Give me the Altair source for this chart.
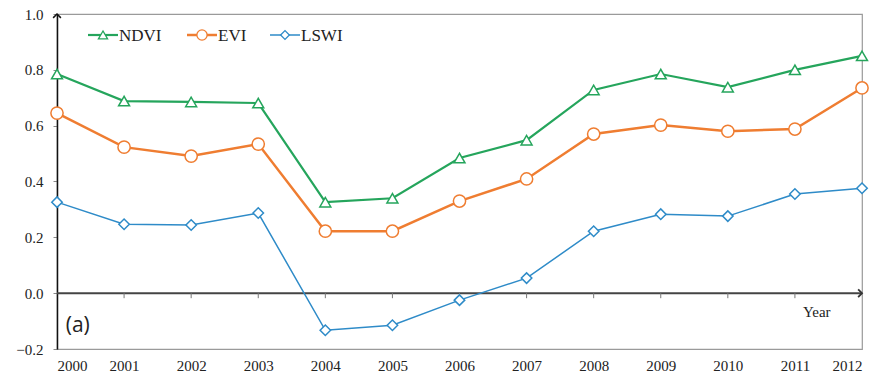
import altair as alt
import pandas as pd

# Vegetation index series, 2000-2012
years = list(range(2000, 2013))
ndvi = [0.785, 0.688, 0.685, 0.681, 0.326, 0.340, 0.484, 0.548, 0.728, 0.785, 0.738, 0.800, 0.850]
evi = [0.645, 0.523, 0.491, 0.534, 0.222, 0.222, 0.330, 0.409, 0.570, 0.602, 0.580, 0.588, 0.735]
lswi = [0.326, 0.247, 0.244, 0.287, -0.133, -0.115, -0.025, 0.054, 0.222, 0.283, 0.276, 0.355, 0.376]

series_names = ["NDVI", "EVI", "LSWI"]
series_values = [ndvi, evi, lswi]
colors = ["#25a55c", "#ef7d31", "#2e8bc8"]
shapes = ["triangle-up", "circle", "diamond"]
sizes = [120, 150, 110]
widths = [2.2, 2.5, 1.5]

SERIF = "Liberation Serif"
W, H = 805, 335

x_scale = alt.Scale(domain=[2000, 2012], nice=False, zero=False)
y_scale = alt.Scale(domain=[-0.2, 1.0], nice=False, zero=False)

y_ticks = [round(-0.2 + 0.1 * i, 1) for i in range(13)]

x_enc = alt.X(
    "year:Q", scale=x_scale,
    axis=alt.Axis(values=years, format="d", title=None, domain=False, ticks=False,
                  labelFont=SERIF, labelFontSize=15, labelColor="#222",
                  labelPadding=9, grid=False),
)
y_enc = alt.Y(
    "value:Q", scale=y_scale,
    axis=alt.Axis(values=y_ticks, title=None, grid=False,
                  labelExpr="abs(round(datum.value*10)) % 2 == 0 ? format(datum.value, '.1f') : ''",
                  labelFont=SERIF, labelFontSize=15, labelColor="#222",
                  labelPadding=10, tickSize=4, tickColor="#888",
                  domainColor="#111", domainWidth=1.5),
)

layers = []

# zero line (x axis) with ticks and arrowhead
layers.append(
    alt.Chart(pd.DataFrame({"a": [0]})).mark_rule(color="#444", strokeWidth=2).encode(
        x=alt.datum(2000, scale=x_scale), x2=alt.datum(2012),
        y=alt.datum(0, scale=y_scale),
    )
)
layers.append(
    alt.Chart(pd.DataFrame({"year": years[1:-1]})).mark_rule(color="#777", strokeWidth=1).encode(
        x=alt.X("year:Q", scale=x_scale), y=alt.datum(0, scale=y_scale), y2=alt.datum(-0.018),
    )
)
layers.append(
    alt.Chart(pd.DataFrame({"a": [0]})).mark_point(
        shape="M -1 -1 L 0 0 L -1 1", filled=False, color="#333", strokeWidth=1.8, size=60, opacity=1,
    ).encode(x=alt.datum(2012, scale=x_scale), y=alt.datum(0, scale=y_scale))
)
# y axis arrowhead
layers.append(
    alt.Chart(pd.DataFrame({"a": [0]})).mark_point(
        shape="M -1 1 L 0 0 L 1 1", filled=False, color="#111", strokeWidth=1.5, size=60, opacity=1,
    ).encode(x=alt.datum(2000, scale=x_scale), y=alt.datum(1.0, scale=y_scale))
)

# series lines and markers
for name, vals, col, shp, sz, lw in zip(series_names, series_values, colors, shapes, sizes, widths):
    df = pd.DataFrame({"year": years, "value": vals})
    base = alt.Chart(df)
    layers.append(base.mark_line(color=col, strokeWidth=lw).encode(x=x_enc, y=y_enc))
    layers.append(
        base.mark_point(shape=shp, size=sz, filled=True, fill="white", stroke=col,
                        strokeWidth=1.5, opacity=1).encode(x=x_enc, y=y_enc)
    )

# legend drawn inside the plot area (pixel offsets from the plot origin)
leg_x = [31, 130, 213]
leg_y = 21
seg = 30
for name, lx, col, shp, sz, lw in zip(series_names, leg_x, colors, shapes, sizes, widths):
    ldf = pd.DataFrame({"name": [name]})
    lb = alt.Chart(ldf)
    layers.append(lb.mark_rule(color=col, strokeWidth=lw).encode(
        x=alt.value(lx), x2=alt.value(lx + seg), y=alt.value(leg_y)))
    layers.append(lb.mark_point(shape=shp, size=sz * 0.7, filled=True, fill="white", stroke=col,
                                strokeWidth=1.3, opacity=1).encode(
        x=alt.value(lx + seg / 2), y=alt.value(leg_y)))
    layers.append(lb.mark_text(align="left", baseline="middle", font=SERIF, fontSize=17,
                               color="#222", dx=1).encode(
        x=alt.value(lx + seg), y=alt.value(leg_y + 1), text="name:N"))

# annotations
layers.append(
    alt.Chart(pd.DataFrame({"t": ["Year"]})).mark_text(
        font=SERIF, fontSize=15, color="#222", align="left", baseline="middle"
    ).encode(x=alt.datum(2011.12, scale=x_scale), y=alt.datum(-0.068, scale=y_scale), text="t:N")
)
layers.append(
    alt.Chart(pd.DataFrame({"t": ["(a)"]})).mark_text(
        font="Open Sans", fontSize=21, color="#222", align="left", baseline="middle"
    ).encode(x=alt.datum(2000.13, scale=x_scale), y=alt.datum(-0.118, scale=y_scale), text="t:N")
)

chart = alt.layer(*layers).properties(
    width=W, height=H,
    padding={"left": 57, "top": 14, "right": 17, "bottom": 31},
    autosize=alt.AutoSizeParams(type="none"),
    background="white",
).configure_view(stroke="#9a9a9a", strokeWidth=1.2)

chart.save("out.html", embed_options={"renderer": "svg", "actions": False})
